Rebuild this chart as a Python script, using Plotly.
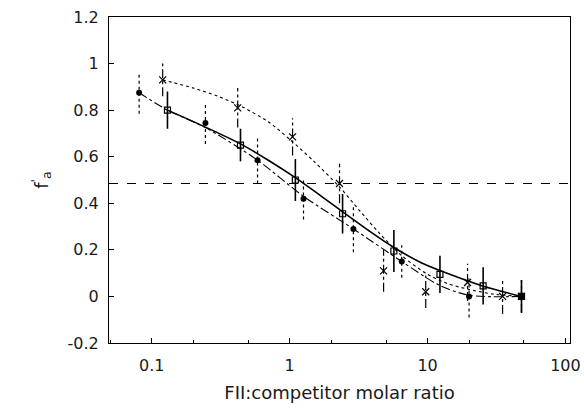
import plotly.graph_objects as go

# ---- data ----
circ_x = [0.081, 0.245, 0.585, 1.26, 2.9, 6.5, 20, 48]
circ_y = [0.875, 0.745, 0.585, 0.42, 0.29, 0.15, 0.0, 0.0]
circ_e = [0.09, 0.09, 0.10, 0.09, 0.10, 0.07, 0.09, 0.07]

sq_x = [0.13, 0.44, 1.1, 2.42, 5.7, 12.3, 25.3, 48]
sq_y = [0.80, 0.65, 0.50, 0.355, 0.195, 0.095, 0.045, 0.0]
sq_e = [0.08, 0.07, 0.09, 0.085, 0.09, 0.08, 0.08, 0.07]

cross_x = [0.12, 0.42, 1.05, 2.3, 4.8, 9.7, 19.5, 35, 48]
cross_y = [0.93, 0.81, 0.685, 0.485, 0.11, 0.02, 0.06, 0.0, 0.0]
cross_e = [0.07, 0.085, 0.08, 0.085, 0.09, 0.07, 0.08, 0.075, 0.07]

solid_x = [0.13, 0.25, 0.44, 0.7, 1.1, 1.7, 2.4, 3.8, 5.7, 9, 14.5, 25, 48]
solid_y = [0.80, 0.725, 0.655, 0.585, 0.51, 0.43, 0.365, 0.28, 0.21, 0.145, 0.095, 0.045, 0.0]

dashdot_x = [0.081, 0.13, 0.245, 0.585, 1.26, 2.9, 6.5, 12, 20, 48]
dashdot_y = [0.875, 0.80, 0.725, 0.585, 0.43, 0.29, 0.15, 0.05, 0.005, 0.0]

dotted_x = [0.12, 0.2, 0.3, 0.45, 0.7, 1.0, 1.5, 2.3, 3.2, 4.5, 6.5, 10, 14, 20, 30, 48]
dotted_y = [0.93, 0.895, 0.86, 0.815, 0.75, 0.675, 0.58, 0.47, 0.37, 0.27, 0.175, 0.095, 0.055, 0.03, 0.01, 0.0]

half_level = 0.485

x_ticks = [0.1, 1, 10, 100]
x_labels = ["0.1", "1", "10", "100"]
y_ticks = [-0.2, 0, 0.2, 0.4, 0.6, 0.8, 1.0, 1.2]
y_labels = ["-0.2", "0", "0.2", "0.4", "0.6", "0.8", "1", "1.2"]


def bars(xs, ys, es):
    bx, by = [], []
    for x, y, e in zip(xs, ys, es):
        bx += [x, x, None]
        by += [y - e, y + e, None]
    return bx, by


fig = go.Figure()

# fitted curves
fig.add_trace(go.Scatter(x=solid_x, y=solid_y, mode="lines",
                         line=dict(color="black", width=1.6, shape="spline", smoothing=0.8),
                         hoverinfo="skip", showlegend=False))
fig.add_trace(go.Scatter(x=dashdot_x, y=dashdot_y, mode="lines",
                         line=dict(color="black", width=1.1, dash="dashdot", shape="spline", smoothing=0.8),
                         hoverinfo="skip", showlegend=False))
fig.add_trace(go.Scatter(x=dotted_x, y=dotted_y, mode="lines",
                         line=dict(color="black", width=1.1, dash="dot", shape="spline", smoothing=0.8),
                         hoverinfo="skip", showlegend=False))

# error bars
bx, by = bars(circ_x, circ_y, circ_e)
fig.add_trace(go.Scatter(x=bx, y=by, mode="lines",
                         line=dict(color="black", width=1.2, dash="dot"),
                         hoverinfo="skip", showlegend=False))
bx, by = bars(sq_x, sq_y, sq_e)
fig.add_trace(go.Scatter(x=bx, y=by, mode="lines",
                         line=dict(color="black", width=1.6),
                         hoverinfo="skip", showlegend=False))
bx, by = bars(cross_x, cross_y, cross_e)
fig.add_trace(go.Scatter(x=bx, y=by, mode="lines",
                         line=dict(color="black", width=1.2, dash="dashdot"),
                         hoverinfo="skip", showlegend=False))

# markers
fig.add_trace(go.Scatter(x=circ_x, y=circ_y, mode="markers",
                         marker=dict(symbol="circle", size=6, color="black"),
                         showlegend=False))
fig.add_trace(go.Scatter(x=sq_x, y=sq_y, mode="markers",
                         marker=dict(symbol="square-open", size=6, color="black",
                                     line=dict(width=1.2)),
                         showlegend=False))
fig.add_trace(go.Scatter(x=cross_x, y=cross_y, mode="markers",
                         marker=dict(symbol="x-thin-open", size=7, color="black",
                                     line=dict(width=1.2, color="black")),
                         showlegend=False))

# horizontal reference line
fig.add_shape(type="line", xref="paper", x0=0, x1=1, yref="y",
              y0=half_level, y1=half_level,
              line=dict(color="black", width=1.2, dash="dash"))

font = dict(family="DejaVu Sans, Arial, sans-serif", size=16, color="#1a1a1a")

fig.update_layout(
    width=584, height=408,
    margin=dict(l=109, r=14, t=17, b=65),
    paper_bgcolor="white", plot_bgcolor="white",
    font=font,
    xaxis=dict(type="log", range=[-1.31, 2.033], automargin=False,
               tickvals=x_ticks, ticktext=x_labels,
               ticks="inside", ticklen=5, tickcolor="black",
               minor=dict(ticks="inside", ticklen=3, tickcolor="black", dtick="D2", showgrid=False),
               showline=True, linecolor="black", linewidth=1.2, mirror=True,
               showgrid=False, zeroline=False, ticklabelstandoff=8,
               title=dict(text="FII:competitor molar ratio", font=dict(size=18), standoff=12)),
    yaxis=dict(range=[-0.2, 1.2], automargin=False,
               tickvals=y_ticks, ticktext=y_labels,
               ticks="inside", ticklen=5, tickcolor="black",
               showline=True, linecolor="black", linewidth=1.2, mirror=True,
               showgrid=False, zeroline=False, ticklabelstandoff=6,
               title=dict(text="f<sup>'</sup><sub>a</sub>", font=dict(size=18), standoff=14)),
)

fig.write_html("out.html")
